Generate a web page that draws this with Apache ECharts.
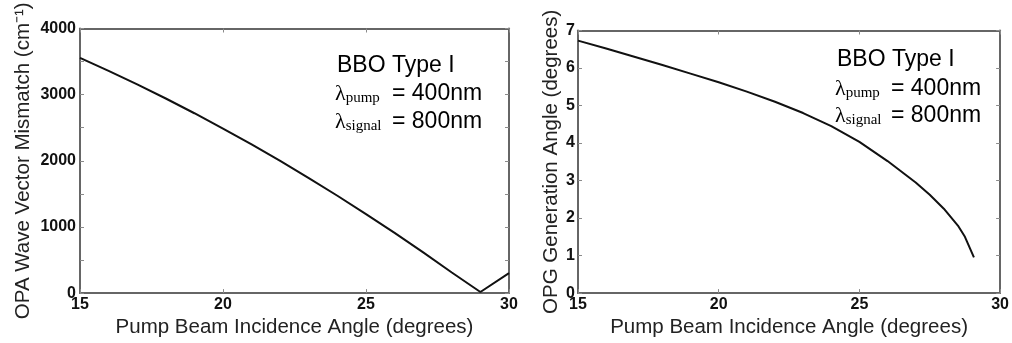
<!DOCTYPE html>
<html>
<head>
<meta charset="utf-8">
<title>BBO Type I phase matching</title>
<script src="https://cdn.jsdelivr.net/npm/echarts@6/dist/echarts.min.js"></script>
<style>
  html, body { margin: 0; padding: 0; background: #ffffff; }
  #chart { width: 1012px; height: 343px; }
</style>
</head>
<body>
<div id="chart"></div>
<script>
// Pump beam incidence angle (degrees) and OPA wave vector mismatch |Δk| (cm^-1)
const opaAngle = [15, 16, 17, 18, 19, 20, 21, 22, 23, 24, 25, 26, 27, 28, 29, 29.05, 30];
const opaMismatch = [3555, 3360, 3155, 2942, 2719, 2488, 2247, 1998, 1739, 1472, 1195, 910, 615, 312, 16, 0, 303];

// Pump beam incidence angle (degrees) and OPG generation angle (degrees)
const opgAngle = [15, 16, 17, 18, 19, 20, 21, 22, 23, 24, 25, 26, 27, 27.5, 28, 28.5, 28.75, 29.07];
const opgGeneration = [6.73, 6.52, 6.30, 6.08, 5.85, 5.62, 5.37, 5.10, 4.80, 4.45, 4.03, 3.52, 2.95, 2.62, 2.25, 1.80, 1.50, 0.95];

// Axis ranges and tick steps
const xRange = [15, 30];
const xStep = 5;
const opaRange = [0, 4000];
const opaTickStep = 500;
const opaLabelStep = 1000;
const opgRange = [0, 7];
const opgStep = 1;

// Texts
const xTitle = 'Pump Beam Incidence Angle (degrees)';
const opaTitle = 'OPA Wave Vector Mismatch (cm\u207B\u00B9)';
const opgTitle = 'OPG Generation Angle (degrees)';
const crystalText = 'BBO Type I';
const pumpText = ['\u03BB', 'pump', '= 400nm'];
const signalText = ['\u03BB', 'signal', '= 800nm'];

const SANS = '"Liberation Sans", Arial, Helvetica, sans-serif';
const SERIF = '"Liberation Serif", "Times New Roman", serif';
const frameColor = '#666666';
const tickColor = '#8a8a8a';
const noteSize = 23;

function frameAxis(extra) {
  return Object.assign({
    type: 'value',
    axisLine: { show: true, onZero: false, lineStyle: { color: frameColor, width: 2 } },
    axisTick: { show: true, inside: true, length: 4, lineStyle: { color: tickColor, width: 1 } },
    splitLine: { show: false },
    axisLabel: {
      show: true, color: '#111', fontFamily: SANS, fontWeight: 'bold', fontSize: 16, margin: 4
    },
    nameTextStyle: { color: '#222', fontFamily: SANS, fontSize: 20.5 }
  }, extra);
}

function hideLabels(ax) {
  ax.axisLabel = Object.assign({}, ax.axisLabel, { show: false });
  return ax;
}

const xAxes = [
  frameAxis({ gridIndex: 0, position: 'bottom', min: xRange[0], max: xRange[1], interval: xStep,
    name: xTitle, nameLocation: 'middle', nameGap: 16 }),
  hideLabels(frameAxis({ gridIndex: 0, position: 'top', min: xRange[0], max: xRange[1], interval: xStep })),
  frameAxis({ gridIndex: 1, position: 'bottom', min: xRange[0], max: xRange[1], interval: xStep,
    name: xTitle, nameLocation: 'middle', nameGap: 16 }),
  hideLabels(frameAxis({ gridIndex: 1, position: 'top', min: xRange[0], max: xRange[1], interval: xStep }))
];
xAxes[0].axisLabel.margin = 3;
xAxes[2].axisLabel.margin = 3;

const opaLeft = frameAxis({ gridIndex: 0, position: 'left', min: opaRange[0], max: opaRange[1],
  interval: opaTickStep, name: opaTitle, nameLocation: 'middle', nameGap: 46, nameRotate: 90 });
opaLeft.axisLabel.formatter = v => (v % opaLabelStep === 0 ? String(v) : '');

const yAxes = [
  opaLeft,
  hideLabels(frameAxis({ gridIndex: 0, position: 'right', min: opaRange[0], max: opaRange[1], interval: opaTickStep })),
  frameAxis({ gridIndex: 1, position: 'left', min: opgRange[0], max: opgRange[1], interval: opgStep,
    name: opgTitle, nameLocation: 'middle', nameGap: 16, nameRotate: 90 }),
  hideLabels(frameAxis({ gridIndex: 1, position: 'right', min: opgRange[0], max: opgRange[1], interval: opgStep }))
];
yAxes[2].axisLabel.margin = 3;

function pairs(xs, ys) { return xs.map((x, i) => [x, ys[i]]); }

// Annotation block: crystal name and the two wavelengths
function annotation(x0, baseCrystal, basePump, baseSignal, eqX) {
  const lambdaRich = {
    l: { fontFamily: SERIF, fontSize: 22, lineHeight: 22, verticalAlign: 'bottom', fill: '#000' },
    s: { fontFamily: SERIF, fontSize: 15, lineHeight: 17.3, verticalAlign: 'bottom', fill: '#000' }
  };
  const rows = [[pumpText, basePump], [signalText, baseSignal]];
  const els = [{
    type: 'text', x: x0 + 2, y: baseCrystal - 0.3465 * noteSize, silent: true,
    style: { text: crystalText, fontFamily: SANS, fontSize: noteSize, fill: '#000', verticalAlign: 'middle' }
  }];
  rows.forEach(([t, base]) => {
    els.push({
      type: 'text', x: x0, y: base + 3.57, silent: true,
      style: { text: '{l|' + t[0] + '}{s|' + t[1] + '}', rich: lambdaRich, verticalAlign: 'bottom' }
    });
    els.push({
      type: 'text', x: eqX, y: base - 0.3465 * noteSize, silent: true,
      style: { text: t[2], fontFamily: SANS, fontSize: noteSize, fill: '#000', verticalAlign: 'middle' }
    });
  });
  return els;
}

const chart = echarts.init(document.getElementById('chart'), null, { renderer: 'canvas' });
chart.setOption({
  backgroundColor: '#ffffff',
  animation: false,
  grid: [
    { left: 80, top: 28.5, width: 429, height: 277.5 },
    { left: 578, top: 30.5, width: 425, height: 275 }
  ],
  xAxis: xAxes,
  yAxis: yAxes,
  series: [
    {
      type: 'line', xAxisIndex: 0, yAxisIndex: 0, data: pairs(opaAngle, opaMismatch),
      showSymbol: false, lineStyle: { color: '#111', width: 2 }
    },
    {
      type: 'line', xAxisIndex: 2, yAxisIndex: 2, data: pairs(opgAngle, opgGeneration),
      showSymbol: false, lineStyle: { color: '#111', width: 2 }
    }
  ],
  graphic: annotation(335, 74, 102, 130, 392).concat(annotation(835, 68, 97, 124, 891))
});
</script>
</body>
</html>
